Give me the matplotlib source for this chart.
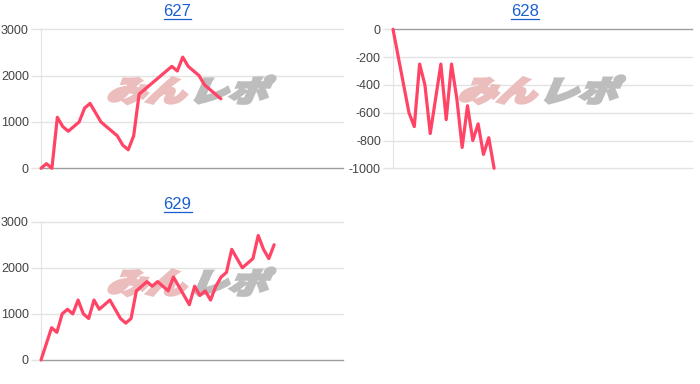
import numpy as np
import matplotlib
matplotlib.use('Agg')
import matplotlib.pyplot as plt
from matplotlib.textpath import TextPath
from matplotlib.font_manager import FontProperties
from matplotlib.patches import PathPatch
from matplotlib.transforms import Affine2D

plt.rcParams['font.family'] = ['Liberation Sans', 'DejaVu Sans']

# データ（グラフから読み取った差枚推移）
titles = ['627', '628', '629']
vals_627 = [0, 100, 0, 1100, 900, 800, 900, 1000, 1300, 1400, 1200, 1000, 900, 800,
            700, 500, 400, 700, 1600, 1700, 1800, 1900, 2000, 2100, 2200, 2100, 2400,
            2200, 2100, 2000, 1800, 1700, 1600, 1500]
vals_628 = [0, -200, -400, -600, -700, -250, -400, -750, -500, -250, -650, -250,
            -500, -850, -550, -800, -680, -900, -780, -1000]
vals_629 = [0, 350, 700, 600, 1000, 1100, 1000, 1300, 1000, 900, 1300, 1100, 1200,
            1300, 1100, 900, 800, 900, 1500, 1600, 1700, 1600, 1700, 1600, 1500, 1800,
            1600, 1400, 1200, 1600, 1400, 1500, 1300, 1600, 1800, 1900, 2400, 2200,
            2000, 2100, 2200, 2700, 2400, 2200, 2500]
yticks_pos = [0, 1000, 2000, 3000]
yticks_neg = [0, -200, -400, -600, -800, -1000]

LINE = '#ff4466'
GRID = '#e3e3e3'
BASE = '#9e9e9e'
LINK = '#1a5fd0'


def watermark(ax):
    # みんレポのロゴ風の透かし
    fp = FontProperties(family='Noto Sans CJK JP', weight='heavy')
    p1 = TextPath((0, 0), 'みん', prop=fp, size=10)
    w1 = p1.get_extents().x1
    p2 = TextPath((w1 + 1.0, 0), 'レポ', prop=fp, size=10)
    skew = Affine2D().skew_deg(18, 0)
    p1 = p1.transformed(skew)
    p2 = p2.transformed(skew)
    e1, e2 = p1.get_extents(), p2.get_extents()
    x0, x1 = min(e1.x0, e2.x0), max(e1.x1, e2.x1)
    y0, y1 = min(e1.y0, e2.y0), max(e1.y1, e2.y1)
    w, h = 0.55, 0.2
    cx, cy = 0.5, 0.565
    tr = Affine2D().translate(-x0, -y0).scale(w / (x1 - x0), h / (y1 - y0)) \
        .translate(cx - w / 2, cy - h / 2) + ax.transAxes
    ax.add_patch(PathPatch(p1, transform=tr, facecolor='#ebbdbd', edgecolor='#ebbdbd',
                           lw=2.2, joinstyle='miter', zorder=1))
    ax.add_patch(PathPatch(p2, transform=tr, facecolor='#bdbdbd', edgecolor='#bdbdbd',
                           lw=2.2, joinstyle='miter', zorder=1))


def draw(ax, data, yticks, xmax, base_val):
    ax.plot(np.arange(len(data)), data, color=LINE, lw=2.3, solid_joinstyle='round',
            solid_capstyle='round', zorder=3, clip_on=False)
    ax.set_xlim(0, xmax)
    ax.set_ylim(min(yticks), max(yticks))
    ax.set_yticks(yticks)
    ax.set_yticklabels([str(t) for t in yticks])
    ax.set_xticks([])
    for v in yticks:
        ax.axhline(v, color=BASE if v == base_val else GRID, lw=1,
                   zorder=2 if v == base_val else 0, clip_on=False)
    for s in ['top', 'right', 'bottom']:
        ax.spines[s].set_visible(False)
    ax.spines['left'].set_color(GRID)
    ax.spines['left'].set_zorder(0)
    ax.tick_params(axis='y', length=7.5, width=1, color=GRID, pad=1.2,
                   labelsize=9, labelcolor='#444444')
    for t, v in zip(ax.yaxis.get_major_ticks(), yticks):
        if v == base_val:
            t.tick1line.set_color(BASE)
    watermark(ax)


fig = plt.figure(figsize=(7, 3.84), dpi=100)
ax1 = fig.add_axes([41 / 700, 1 - 168.3 / 384, 302 / 700, 139 / 384])
ax2 = fig.add_axes([393 / 700, 1 - 168.3 / 384, 299 / 700, 139 / 384])
ax3 = fig.add_axes([41 / 700, 1 - 360 / 384, 302 / 700, 138.3 / 384])

draw(ax1, vals_627, yticks_pos, 55.4, 0)
draw(ax2, vals_628, yticks_neg, 56.2, 0)
draw(ax3, vals_629, yticks_pos, 57.0, 0)

# タイトル（リンク風・下線付き）
title_xy = [(177.5, 11.5), (525, 11.5), (177.5, 204.5)]
fig.canvas.draw()
r = fig.canvas.get_renderer()
for name, (tx, ty) in zip(titles, title_xy):
    t = fig.text(tx / 700, 1 - ty / 384, name, ha='center', va='center',
                 fontsize=12, color=LINK)
    bb = t.get_window_extent(renderer=r)
    uy = (384 - ty - 7) / 384
    fig.add_artist(plt.Line2D([bb.x0 / 700, bb.x1 / 700], [uy, uy],
                              color=LINK, lw=0.9, transform=fig.transFigure))

fig.savefig('out.png', dpi=100)
